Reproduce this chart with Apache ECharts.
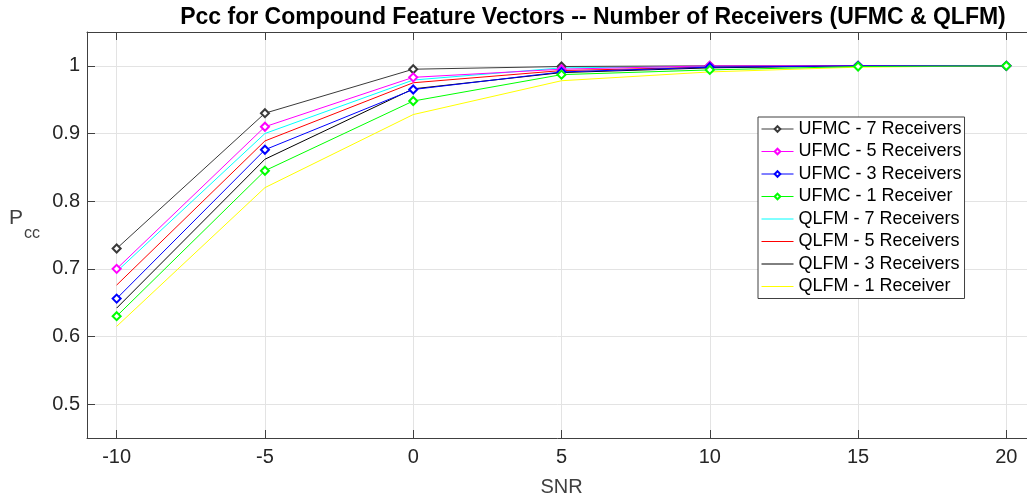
<!DOCTYPE html>
<html>
<head>
<meta charset="utf-8">
<script src="https://cdn.jsdelivr.net/npm/echarts@6/dist/echarts.min.js"></script>
<style>
  html, body { margin: 0; padding: 0; background: #fff; }
  #chart { width: 1027px; height: 496px; }
</style>
</head>
<body>
<div id="chart"></div>
<script>
// SNR points (dB) and tick positions
const snr = [-10, -5, 0, 5, 10, 15, 20];
const xTicks = [-10, -5, 0, 5, 10, 15, 20];
const yTicks = [0.5, 0.6, 0.7, 0.8, 0.9, 1];

// Probability of correct classification per receiver configuration
const ufmc7 = [0.730, 0.930, 0.995, 0.999, 1.000, 1.000, 1.000];
const ufmc5 = [0.700, 0.910, 0.983, 0.995, 1.000, 1.000, 1.000];
const ufmc3 = [0.656, 0.876, 0.965, 0.991, 0.998, 1.000, 1.000];
const ufmc1 = [0.630, 0.845, 0.948, 0.987, 0.994, 0.999, 1.000];
const qlfm7 = [0.696, 0.900, 0.979, 0.997, 0.999, 1.000, 1.000];
const qlfm5 = [0.676, 0.889, 0.975, 0.993, 0.998, 1.000, 1.000];
const qlfm3 = [0.642, 0.862, 0.966, 0.990, 0.997, 1.000, 1.000];
const qlfm1 = [0.615, 0.820, 0.928, 0.978, 0.991, 0.998, 1.000];

const FONT = '"Liberation Sans", Arial, Helvetica, sans-serif';
const TXT = '#262626';
const AX = '#404040';

function pairs(vals) { return snr.map((x, i) => [x, vals[i]]); }

function ufmcSeries(name, vals, color) {
  return {
    name, type: 'line', data: pairs(vals), color,
    symbol: 'emptyDiamond', symbolSize: 8, showSymbol: true,
    lineStyle: { width: 1, color }, itemStyle: { color, borderWidth: 1 },
    emphasis: { disabled: true }, z: 3
  };
}
function qlfmSeries(name, vals, color) {
  return {
    name, type: 'line', data: pairs(vals), color,
    symbol: 'none',
    lineStyle: { width: 1, color }, itemStyle: { color },
    emphasis: { disabled: true }, z: 2
  };
}

const series = [
  ufmcSeries('UFMC - 7 Receivers', ufmc7, '#3a3a3a'),
  ufmcSeries('UFMC - 5 Receivers', ufmc5, '#ff00ff'),
  ufmcSeries('UFMC - 3 Receivers', ufmc3, '#0000ff'),
  ufmcSeries('UFMC - 1 Receiver', ufmc1, '#00ff00'),
  qlfmSeries('QLFM - 7 Receivers', qlfm7, '#00ffff'),
  qlfmSeries('QLFM - 5 Receivers', qlfm5, '#ff0000'),
  qlfmSeries('QLFM - 3 Receivers', qlfm3, '#000000'),
  qlfmSeries('QLFM - 1 Receiver', qlfm1, '#ffff00')
];

// line-only series show just the line sample in the legend (marker hidden)
const legendData = series.map(s => s.symbol === 'none'
  ? { name: s.name, itemStyle: { opacity: 0 } }
  : { name: s.name });

const chart = echarts.init(document.getElementById('chart'), null, { renderer: 'canvas' });

chart.setOption({
  animation: false,
  backgroundColor: '#fff',
  title: {
    text: 'Pcc for Compound Feature Vectors -- Number of Receivers (UFMC & QLFM)',
    left: 588, top: 1, textAlign: 'center',
    textStyle: { fontFamily: FONT, fontSize: 23, fontWeight: 'bold', color: '#000' }
  },
  grid: { left: 87, top: 32, right: -9, bottom: 58, outerBoundsMode: 'none', containLabel: false },
  legend: {
    data: legendData,
    orient: 'vertical', left: 758, top: 117,
    itemWidth: 32, itemHeight: 7, itemGap: 2.5,
    padding: [2, 3, 2, 3],
    backgroundColor: '#fff', borderColor: AX, borderWidth: 1,
    lineStyle: { width: 1 },
    textStyle: { fontFamily: FONT, fontSize: 18, color: '#000', lineHeight: 20 },
    selectedMode: false
  },
  xAxis: [{
    type: 'value', min: -11, max: 21,
    name: 'SNR', nameLocation: 'middle', nameGap: 39,
    nameTextStyle: { fontFamily: FONT, fontSize: 20, color: '#404040' },
    axisLine: { show: true, lineStyle: { color: AX, width: 1 } },
    axisTick: { show: true, inside: true, length: 8, customValues: xTicks, lineStyle: { color: AX } },
    axisLabel: { customValues: xTicks, fontFamily: FONT, fontSize: 20, color: TXT, margin: 9 },
    splitLine: { show: true, lineStyle: { color: '#e3e3e3', width: 1 } }
  }, {
    type: 'value', min: -11, max: 21, position: 'top',
    axisLine: { show: true, onZero: false, lineStyle: { color: AX, width: 1 } },
    axisTick: { show: true, inside: true, length: 8, customValues: xTicks, lineStyle: { color: AX } },
    axisLabel: { show: false },
    splitLine: { show: false }
  }],
  yAxis: {
    type: 'value', min: 0.45, max: 1.05,
    axisLine: { show: true, onZero: false, lineStyle: { color: AX, width: 1 } },
    axisTick: { show: true, inside: true, length: 8, customValues: yTicks, lineStyle: { color: AX } },
    axisLabel: { customValues: yTicks, fontFamily: FONT, fontSize: 20, color: TXT, margin: 7 },
    splitLine: { show: true, lineStyle: { color: '#e3e3e3', width: 1 } }
  },
  graphic: [
    { type: 'text', left: 9, top: 208, style: { text: 'P', fontFamily: FONT, fontSize: 21, fill: '#404040' } },
    { type: 'text', left: 24, top: 226, style: { text: 'cc', fontFamily: FONT, fontSize: 16, fill: '#404040' } }
  ],
  series
});
</script>
</body>
</html>
